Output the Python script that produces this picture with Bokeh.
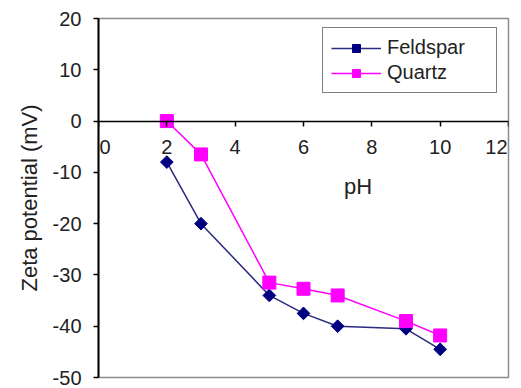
import numpy as np
from bokeh.plotting import figure
from bokeh.models import Range1d, Legend, LegendItem, Label, FixedTicker
from bokeh.embed import file_html
from bokeh.resources import INLINE

ph_feldspar = [2, 3, 5, 6, 7, 9, 10]
zeta_feldspar = [-8, -20, -34, -37.5, -40, -40.5, -44.5]
ph_quartz = [2, 3, 5, 6, 7, 9, 10]
zeta_quartz = [0, -6.5, -31.5, -32.7, -34, -39, -41.8]
x_ticks = [0, 2, 4, 6, 8, 10, 12]
y_ticks = [-50, -40, -30, -20, -10, 0, 10, 20]
y_tick_labels = ["-50", "-40", "-30", "-20", "-10", "0", "10", "20"]
x_first_tick, x_last_tick = 0, 12

FONT = "Liberation Sans"
TXT = "#222222"

p = figure(frame_width=410, frame_height=359, output_backend="svg", toolbar_location=None,
           x_range=Range1d(0, 12), y_range=Range1d(-50, 20),
           min_border_left=98, min_border_top=18, min_border_right=8, min_border_bottom=10)
p.background_fill_color = "white"
p.border_fill_color = "white"
p.outline_line_color = "#8c8c8c"
p.outline_line_width = 1.5
p.grid.visible = False

# x axis crossing at y = 0
xa = p.xaxis[0]
xa.fixed_location = 0
xa.ticker = FixedTicker(ticks=x_ticks)
xa.axis_line_color = "black"
xa.axis_line_width = 1.5
xa.major_tick_in = 0
xa.major_tick_out = 5
xa.major_tick_line_width = 1.5
xa.minor_tick_line_color = None
xa.major_label_text_font = FONT
xa.major_label_text_font_size = "20px"
xa.major_label_text_color = TXT
xa.major_label_standoff = 14
# the edge tick labels would be clipped by the frame; draw them inside it instead
xa.major_label_overrides = {x_first_tick: "", x_last_tick: ""}
p.add_layout(Label(x=x_first_tick, y=0, y_offset=-19, x_offset=1, text=str(x_first_tick),
                   text_font=FONT, text_font_size="20px", text_align="left",
                   text_baseline="top", text_color=TXT))
p.add_layout(Label(x=x_last_tick, y=0, y_offset=-19, x_offset=-1, text=str(x_last_tick),
                   text_font=FONT, text_font_size="20px", text_align="right",
                   text_baseline="top", text_color=TXT))

ya = p.yaxis[0]
ya.ticker = FixedTicker(ticks=y_ticks)
ya.major_label_overrides = dict(zip(y_ticks, y_tick_labels))
ya.axis_line_color = "black"
ya.axis_line_width = 2
ya.major_tick_in = 0
ya.major_tick_out = 5
ya.major_tick_line_width = 1.5
ya.minor_tick_line_color = None
ya.major_label_text_font = FONT
ya.major_label_text_font_size = "20px"
ya.major_label_text_color = TXT
ya.major_label_standoff = 12
ya.axis_label = "Zeta potential (mV)"
ya.axis_label_text_font = FONT
ya.axis_label_text_font_size = "22px"
ya.axis_label_text_font_style = "normal"
ya.axis_label_text_color = TXT
ya.axis_label_standoff = 8

fl = p.line(ph_feldspar, zeta_feldspar, line_color="#2a2a80", line_width=1.5)
fm = p.scatter(ph_feldspar, zeta_feldspar, marker="square", angle=np.pi / 4, size=9,
               fill_color="#000080", line_color="#000080")
ql = p.line(ph_quartz, zeta_quartz, line_color="#ff00ff", line_width=1.5)
qm = p.scatter(ph_quartz, zeta_quartz, marker="square", size=13,
               fill_color="#ff00ff", line_color="#ff00ff")

p.add_layout(Label(x=7.6, y=-12.8, text="pH", text_font=FONT, text_font_size="22px",
                   text_align="center", text_baseline="middle", text_color=TXT))

legend = Legend(items=[LegendItem(label="Feldspar", renderers=[fl, fm]),
                       LegendItem(label="Quartz", renderers=[ql, qm])],
                location=(224, 284), orientation="vertical")
legend.border_line_color = "black"
legend.border_line_width = 1.5
legend.background_fill_color = "white"
legend.padding = 8
legend.spacing = 2
legend.glyph_width = 50
legend.glyph_height = 20
legend.label_height = 20
legend.label_width = 101
legend.label_standoff = 6
legend.label_text_font = FONT
legend.label_text_font_size = "20px"
legend.label_text_color = TXT
legend.margin = 0
p.add_layout(legend, "center")

open("out.html", "w").write(file_html(p, INLINE))
